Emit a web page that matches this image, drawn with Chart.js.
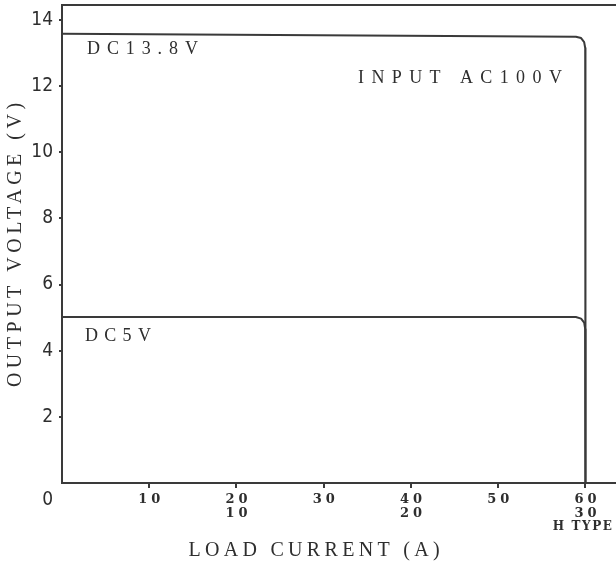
<!DOCTYPE html>
<html>
<head>
<meta charset="utf-8">
<script src="https://cdn.jsdelivr.net/npm/chart.js@4"></script>
<style>
html, body { margin: 0; padding: 0; background: #fff; }
</style>
</head>
<body>
<canvas id="voltChart" width="616" height="567"></canvas>
<script>
// load current ticks (A) - second row is the H type rating
const xTicks = [10, 20, 30, 40, 50, 60];
const xLabels = ['10', '20', '30', '40', '50', '60'];
const xLabelsH = ['', '10', '', '20', '', '30'];
const yTicks = [2, 4, 6, 8, 10, 12, 14];

// output voltage curves
const dc138X = [0, 58.9, 59.5, 59.85, 59.97, 60, 60];
const dc138Y = [13.58, 13.49, 13.45, 13.33, 13.15, 12.9, 0];
const dc5X = [0, 58.9, 59.5, 59.85, 59.97, 60, 60];
const dc5Y = [5.02, 5.02, 4.97, 4.85, 4.65, 4.4, 0];

const lineColor = '#3a3a3a';
const textColor = '#2e2e2e';

function toPoints(xs, ys) {
    return xs.map((x, i) => ({ x: x, y: ys[i] }));
}

function spacedText(ctx, text, x, y, sp, align) {
    ctx.letterSpacing = sp + 'px';
    const w = ctx.measureText(text).width - sp;
    let left = x;
    if (align === 'center') left = x - w / 2;
    if (align === 'right') left = x - w;
    ctx.textAlign = 'left';
    ctx.fillText(text, left, y);
}

const textPlugin = {
    id: 'textPlugin',
    afterDraw(chart) {
        const ctx = chart.ctx;
        const area = chart.chartArea;
        const xs = chart.scales.x;
        ctx.save();

        // top frame line
        ctx.strokeStyle = lineColor;
        ctx.lineWidth = 2;
        ctx.beginPath();
        ctx.moveTo(area.left - 1, area.top);
        ctx.lineTo(area.right, area.top);
        ctx.stroke();

        ctx.fillStyle = textColor;
        ctx.textBaseline = 'middle';

        // x tick labels
        ctx.font = 'bold 13px "DejaVu Serif", serif';
        xTicks.forEach((v, i) => {
            const px = xs.getPixelForValue(v);
            spacedText(ctx, xLabels[i], px, 500, 4, 'center');
            if (xLabelsH[i]) spacedText(ctx, xLabelsH[i], px, 513.5, 4, 'center');
        });
        ctx.font = 'bold 12px "DejaVu Serif", serif';
        spacedText(ctx, 'H TYPE', 612, 527, 1.6, 'right');

        // origin label
        ctx.font = '19px "Liberation Sans Narrow", "DejaVu Sans Condensed", sans-serif';
        spacedText(ctx, '0', 53, 500, 0, 'right');

        // axis titles
        ctx.font = '20px "Liberation Serif", serif';
        spacedText(ctx, 'LOAD CURRENT (A)', 314, 551, 4.3, 'center');
        ctx.save();
        ctx.translate(16, 245);
        ctx.rotate(-Math.PI / 2);
        spacedText(ctx, 'OUTPUT VOLTAGE (V)', 0, 0, 4.5, 'center');
        ctx.restore();

        // curve labels
        ctx.font = '18px "Liberation Serif", serif';
        spacedText(ctx, 'DC13.8V', 87, 49.5, 6.9, 'left');
        spacedText(ctx, 'INPUT AC100V', 358, 78.5, 7.4, 'left');
        spacedText(ctx, 'DC5V', 85, 336, 6.3, 'left');

        ctx.restore();
    }
};

const ctx = document.getElementById('voltChart').getContext('2d');
new Chart(ctx, {
    type: 'scatter',
    data: {
        datasets: [{
            label: 'DC13.8V',
            data: toPoints(dc138X, dc138Y),
            showLine: true,
            borderColor: lineColor,
            borderWidth: 2,
            pointRadius: 0,
            borderJoinStyle: 'round',
            tension: 0
        }, {
            label: 'DC5V',
            data: toPoints(dc5X, dc5Y),
            showLine: true,
            borderColor: lineColor,
            borderWidth: 2,
            pointRadius: 0,
            borderJoinStyle: 'round',
            tension: 0
        }]
    },
    options: {
        responsive: false,
        animation: false,
        devicePixelRatio: 1,
        layout: { padding: { top: 5, right: 0, bottom: 0, left: 0 } },
        plugins: {
            legend: { display: false },
            tooltip: { enabled: false }
        },
        scales: {
            x: {
                type: 'linear',
                min: 0,
                max: 63.5,
                afterBuildTicks: (axis) => { axis.ticks = xTicks.map(v => ({ value: v })); },
                afterFit: (axis) => {
                    axis.height = 84;
                    axis.paddingLeft = 0;
                    axis.paddingRight = 0;
                },
                ticks: { display: false },
                grid: { drawOnChartArea: false, drawTicks: true, tickLength: 5, color: lineColor, lineWidth: 2 },
                border: { display: true, color: lineColor, width: 2 }
            },
            y: {
                type: 'linear',
                min: 0,
                max: 14.45,
                afterBuildTicks: (axis) => { axis.ticks = yTicks.map(v => ({ value: v })); },
                afterFit: (axis) => {
                    axis.width = 62;
                    axis.paddingTop = 0;
                    axis.paddingBottom = 0;
                },
                ticks: {
                    color: textColor,
                    padding: 6,
                    font: { family: '"Liberation Sans Narrow", "DejaVu Sans Condensed", sans-serif', size: 19 }
                },
                grid: { drawOnChartArea: false, drawTicks: true, tickLength: 3, color: lineColor, lineWidth: 2 },
                border: { display: true, color: lineColor, width: 2 }
            }
        }
    },
    plugins: [textPlugin]
});
</script>
</body>
</html>
